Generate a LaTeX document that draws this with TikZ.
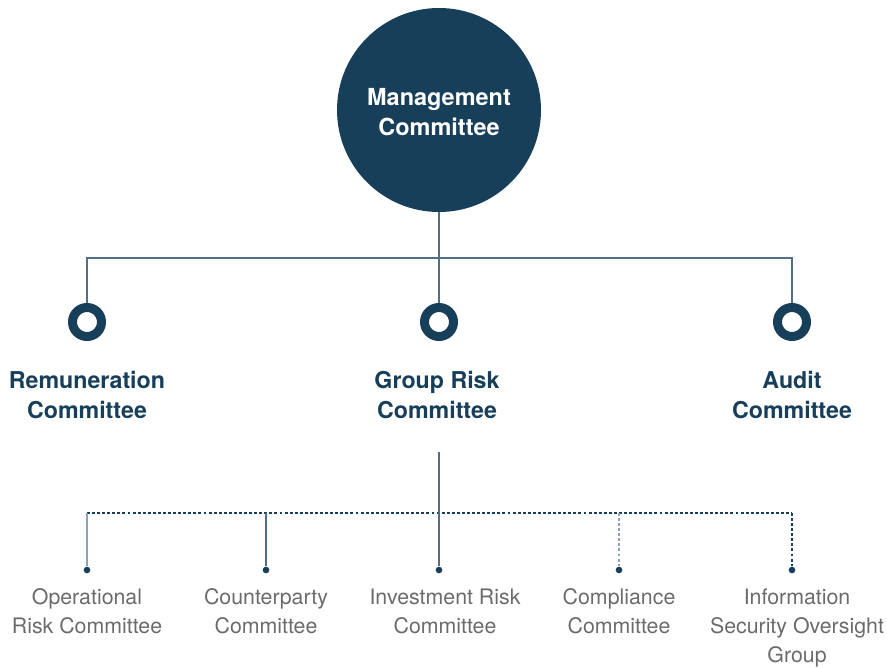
\documentclass[tikz,border=0pt]{standalone}
\usepackage{fontspec}
\setmainfont{TeX Gyre Heros}
\definecolor{navy}{HTML}{173F5A}
\definecolor{txtgray}{HTML}{6B6B6B}
\definecolor{paleline}{HTML}{8DA2B3}

\begin{document}
\begin{tikzpicture}[
  x=0.75pt, y=-0.75pt,
  hub/.style={circle, fill=navy, minimum size=153pt, inner sep=0pt,
    text=white, font=\bfseries\fontsize{17.6}{22}\selectfont, align=center},
  ring/.style={circle, draw=navy, line width=6.75pt, minimum size=21.75pt, inner sep=0pt},
  cpnt/.style={circle, fill=navy, minimum size=5pt, inner sep=0pt},
  head/.style={anchor=north, inner sep=0pt, text=navy, align=center,
    font=\bfseries\fontsize{17.4}{22.5}\selectfont},
  sub/.style={anchor=north, inner sep=0pt, text=txtgray, align=center,
    font=\fontsize{16}{21.75}\selectfont},
  link/.style={draw=navy!75, line width=1.1pt},
  dsh/.style={draw=navy, line width=1pt, dash pattern=on 2.2pt off 1.6pt},
  pale/.style={draw=paleline, line width=1.1pt}
]
\useasboundingbox (0,0) rectangle (887,667);

% top level
\node [hub] (mc) at (439,110) {};
\node [hub, fill=none] (mcL) at (439,112) {Management\\Committee};

\node [ring] (rem) at (87,322) {};
\node [ring] (grp) at (439,322) {};
\node [ring] (aud) at (792,322) {};
\node [head] (remL) at (87,371) {Remuneration\\Committee};
\node [head] (grpL) at (437,371) {Group Risk\\Committee};
\node [head] (audL) at (792,371) {Audit\\Committee};

\coordinate (busL) at (87,258);
\coordinate (busR) at (792,258);
\draw [link] (mc.south) -- (grp.north);
\draw [link] (rem.north) -- (busL) -- (busR) -- (aud.north);

% sub-committees of the risk committee
\coordinate (riskTop) at (439,452);
\coordinate (lowL) at (87,513);
\coordinate (lowR) at (792,513);
\node [cpnt] (d1) at (87,570) {};
\node [cpnt] (d2) at (266,570) {};
\node [cpnt] (d3) at (439,570) {};
\node [cpnt] (d4) at (619,570) {};
\node [cpnt] (d5) at (792,570) {};

\draw [dsh] (lowL) -- (lowR);
\draw [pale] (lowL) -- (d1);
\draw [link] (d2 |- lowL) -- (d2);
\draw [link] (riskTop) -- (d3);
\draw [pale, dash pattern=on 2.2pt off 1.6pt] (d4 |- lowL) -- (d4);
\draw [dsh] (lowR) -- (d5);

\node [sub] (b1) at (87,588) {Operational\\Risk Committee};
\node [sub] (b2) at (266,588) {Counterparty\\Committee};
\node [sub] (b3) at (445,589) {Investment Risk\\Committee};
\node [sub] (b4) at (619,588) {Compliance\\Committee};
\node [sub] (b5) at (797,589) {Information\\Security Oversight\\Group};
\end{tikzpicture}
\end{document}
